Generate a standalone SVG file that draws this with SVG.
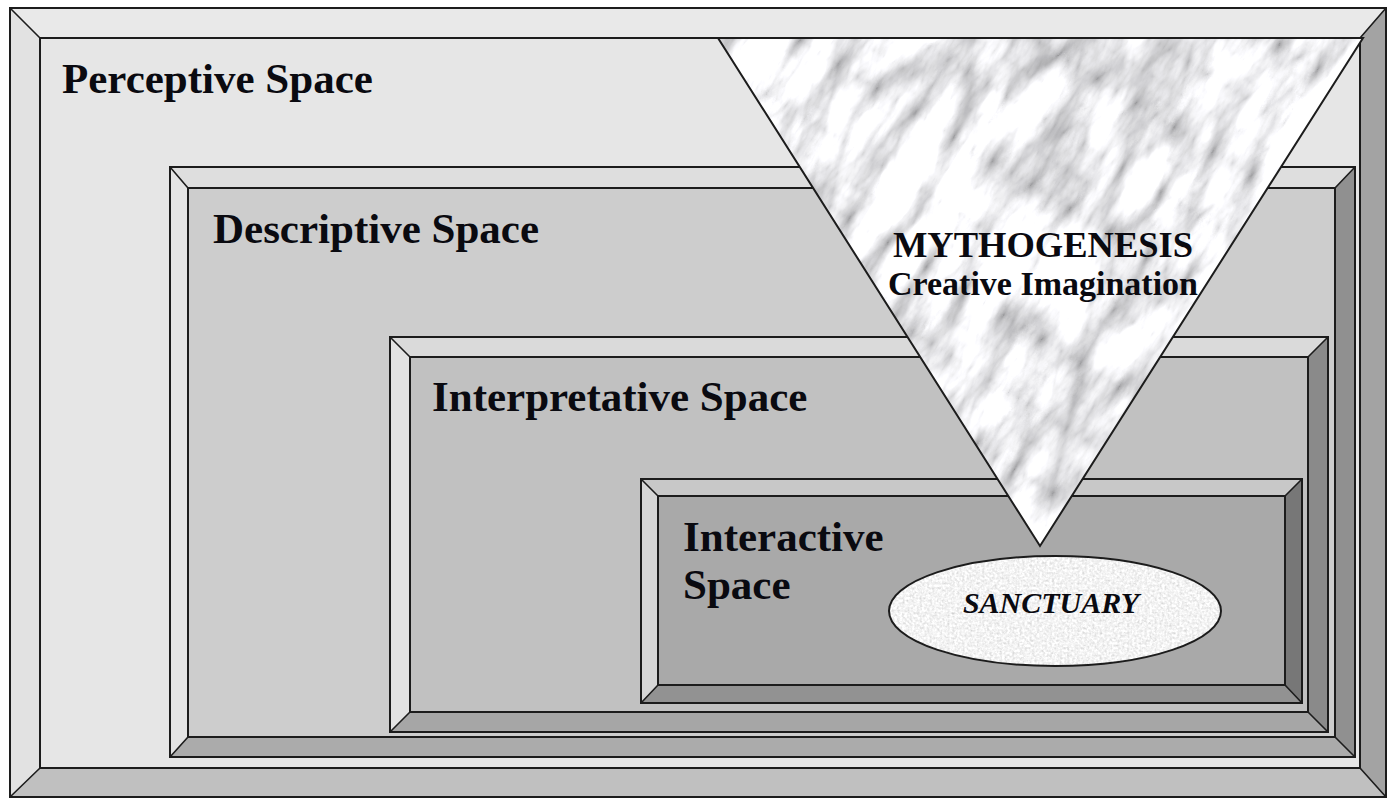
<svg xmlns="http://www.w3.org/2000/svg" width="1394" height="799" viewBox="0 0 1394 799">
<defs>
<style>
.ln{stroke:#1c1c1c;stroke-width:2;fill:none;stroke-linejoin:miter}
.dg{stroke:#1c1c1c;stroke-width:1.6;fill:none}
.lbl{font-family:"Liberation Serif","Times New Roman",serif;font-weight:bold;fill:#0a0a10}
.big{font-size:43px}
</style>
<filter id="marble" x="0" y="0" width="1" height="1" color-interpolation-filters="sRGB">
<feTurbulence type="turbulence" baseFrequency="0.008 0.022" numOctaves="5" seed="11"/>
<feColorMatrix type="matrix" values="0.33 0.33 0.34 0 0 0.33 0.33 0.34 0 0 0.33 0.33 0.34 0 0 0 0 0 0 1"/>
<feComponentTransfer>
<feFuncR type="linear" slope="1.05" intercept="0.6"/>
<feFuncG type="linear" slope="1.05" intercept="0.6"/>
<feFuncB type="linear" slope="1.05" intercept="0.61"/>
</feComponentTransfer>
</filter>
<filter id="granite" x="0" y="0" width="1" height="1" color-interpolation-filters="sRGB">
<feTurbulence type="fractalNoise" baseFrequency="0.4" numOctaves="2" seed="3"/>
<feColorMatrix type="matrix" values="0.33 0.33 0.34 0 0 0.33 0.33 0.34 0 0 0.33 0.33 0.34 0 0 0 0 0 0 1"/>
<feComponentTransfer>
<feFuncR type="linear" slope="0.45" intercept="0.73"/>
<feFuncG type="linear" slope="0.45" intercept="0.73"/>
<feFuncB type="linear" slope="0.45" intercept="0.73"/>
</feComponentTransfer>
</filter>
<clipPath id="triClip"><polygon points="718,38 1363,38 1040,546"/></clipPath>
<clipPath id="ellClip"><ellipse cx="1055" cy="611" rx="166" ry="55"/></clipPath>
</defs>

<rect x="0" y="0" width="1394" height="799" fill="#ffffff"/>

<g id="perceptive-space">
<polygon points="10,8 1386,8 1360,38 40,38" fill="#e9e9e9"/>
<polygon points="10,8 40,38 40,768 10,797" fill="#e2e2e2"/>
<polygon points="1386,8 1386,797 1360,768 1360,38" fill="#a3a3a3"/>
<polygon points="10,797 40,768 1360,768 1386,797" fill="#c0c0c0"/>
<rect x="40" y="38" width="1320" height="730" fill="#e6e6e6"/>
<rect class="ln" x="10" y="8" width="1376" height="789"/>
<rect class="ln" x="40" y="38" width="1320" height="730"/>
<path class="dg" d="M10,8 L40,38 M1386,8 L1360,38 M10,797 L40,768 M1386,797 L1360,768"/>
<text class="lbl big" x="62" y="93">Perceptive Space</text>
</g>

<g id="descriptive-space">
<polygon points="170,167 1355,167 1335,188 188,188" fill="#dedede"/>
<polygon points="170,167 188,188 188,737 170,757" fill="#e4e4e4"/>
<polygon points="1355,167 1355,757 1335,737 1335,188" fill="#909090"/>
<polygon points="170,757 188,737 1335,737 1355,757" fill="#ababab"/>
<rect x="188" y="188" width="1147" height="549" fill="#cdcdcd"/>
<rect class="ln" x="170" y="167" width="1185" height="590"/>
<rect class="ln" x="188" y="188" width="1147" height="549"/>
<path class="dg" d="M170,167 L188,188 M1355,167 L1335,188 M170,757 L188,737 M1355,757 L1335,737"/>
<text class="lbl big" x="213" y="243">Descriptive Space</text>
</g>

<g id="interpretative-space">
<polygon points="390,337 1328,337 1308,357 410,357" fill="#dadada"/>
<polygon points="390,337 410,357 410,712 390,732" fill="#e2e2e2"/>
<polygon points="1328,337 1328,732 1308,712 1308,357" fill="#8a8a8a"/>
<polygon points="390,732 410,712 1308,712 1328,732" fill="#a6a6a6"/>
<rect x="410" y="357" width="898" height="355" fill="#c1c1c1"/>
<rect class="ln" x="390" y="337" width="938" height="395"/>
<rect class="ln" x="410" y="357" width="898" height="355"/>
<path class="dg" d="M390,337 L410,357 M1328,337 L1308,357 M390,732 L410,712 M1328,732 L1308,712"/>
<text class="lbl big" x="432" y="411">Interpretative Space</text>
</g>

<g id="interactive-space">
<polygon points="641,479 1302,479 1285,496 658,496" fill="#c8c8c8"/>
<polygon points="641,479 658,496 658,685 641,703" fill="#d6d6d6"/>
<polygon points="1302,479 1302,703 1285,685 1285,496" fill="#777777"/>
<polygon points="641,703 658,685 1285,685 1302,703" fill="#929292"/>
<rect x="658" y="496" width="627" height="189" fill="#a9a9a9"/>
<rect class="ln" x="641" y="479" width="661" height="224"/>
<rect class="ln" x="658" y="496" width="627" height="189"/>
<path class="dg" d="M641,479 L658,496 M1302,479 L1285,496 M641,703 L658,685 M1302,703 L1285,685"/>
<text class="lbl big" x="683" y="551">Interactive</text>
<text class="lbl big" x="683" y="599">Space</text>
</g>

<g id="mythogenesis">
<g clip-path="url(#triClip)">
<g transform="rotate(-58 1040 290)">
<rect x="540" y="-210" width="1000" height="1000" filter="url(#marble)"/>
</g>
</g>
<polygon class="ln" points="718,38 1363,38 1040,546"/>
<text class="lbl" x="1043" y="257" font-size="36.5" text-anchor="middle">MYTHOGENESIS</text>
<text class="lbl" x="1043" y="295" font-size="34" text-anchor="middle">Creative Imagination</text>
</g>

<g id="sanctuary">
<g clip-path="url(#ellClip)">
<rect x="885" y="552" width="340" height="120" filter="url(#granite)"/>
</g>
<ellipse class="ln" cx="1055" cy="611" rx="166" ry="55"/>
<text class="lbl" x="1051" y="613" font-size="30" font-style="italic" text-anchor="middle">SANCTUARY</text>
</g>

<g id="connectors"></g>
</svg>
